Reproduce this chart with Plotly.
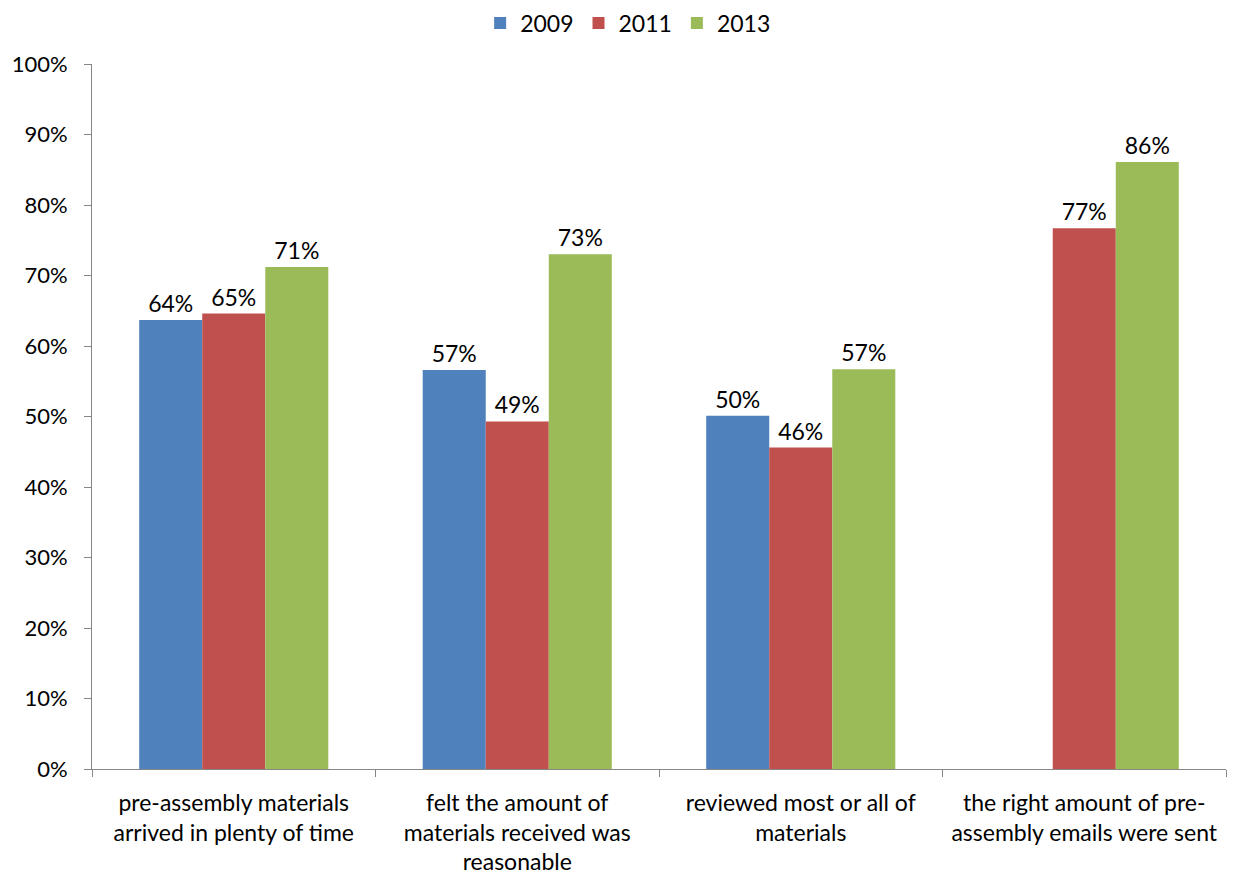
import plotly.graph_objects as go

categories = [
    "pre-assembly materials<br>arrived in plenty of time",
    "felt the amount of<br>materials received was<br>reasonable",
    "reviewed most or all of<br>materials",
    "the right amount of pre-<br>assembly emails were sent",
]
series_names = ["2009", "2011", "2013"]
values_2009 = [0.637, 0.566, 0.501, None]
values_2011 = [0.646, 0.493, 0.456, 0.767]
values_2013 = [0.712, 0.730, 0.567, 0.861]
colors = ["#4F81BD", "#C0504D", "#9BBB59"]
y_ticks = [0, 0.1, 0.2, 0.3, 0.4, 0.5, 0.6, 0.7, 0.8, 0.9, 1.0]

FONT = "Lato, Calibri, Liberation Sans, sans-serif"

fig = go.Figure()
for name, vals, col in zip(series_names, [values_2009, values_2011, values_2013], colors):
    fig.add_trace(go.Bar(
        x=categories, y=vals, name=name,
        marker=dict(color=col, line=dict(width=0)),
        texttemplate="%{y:.0%}", textposition="outside",
        textfont=dict(size=23, color="black", family=FONT),
        cliponaxis=False,
    ))

fig.update_layout(
    width=1228, height=870,
    margin=dict(l=84, r=10, t=56, b=109, autoexpand=False),
    paper_bgcolor="white", plot_bgcolor="white",
    barmode="group", bargap=0.333, bargroupgap=0,
    font=dict(family=FONT, size=22, color="black"),
    legend=dict(orientation="h", x=0.505, xanchor="center", xref="container",
                y=1.058, yanchor="middle", yref="paper",
                font=dict(size=23), traceorder="normal"),
    showlegend=True,
)
fig.update_xaxes(
    showline=True, linecolor="#868686", linewidth=1,
    ticks="outside", tickson="boundaries", ticklen=7, tickcolor="#868686",
    showgrid=False, tickfont=dict(size=23), automargin=False,
    ticklabelstandoff=13,
)
fig.update_yaxes(
    range=[0, 1], tickvals=y_ticks, tickformat=".0%",
    showline=True, linecolor="#868686", linewidth=1,
    ticks="outside", ticklen=7, tickcolor="#868686",
    showgrid=False, zeroline=False, tickfont=dict(size=22), automargin=False,
    ticklabelstandoff=12,
)

fig.write_html("out.html")
